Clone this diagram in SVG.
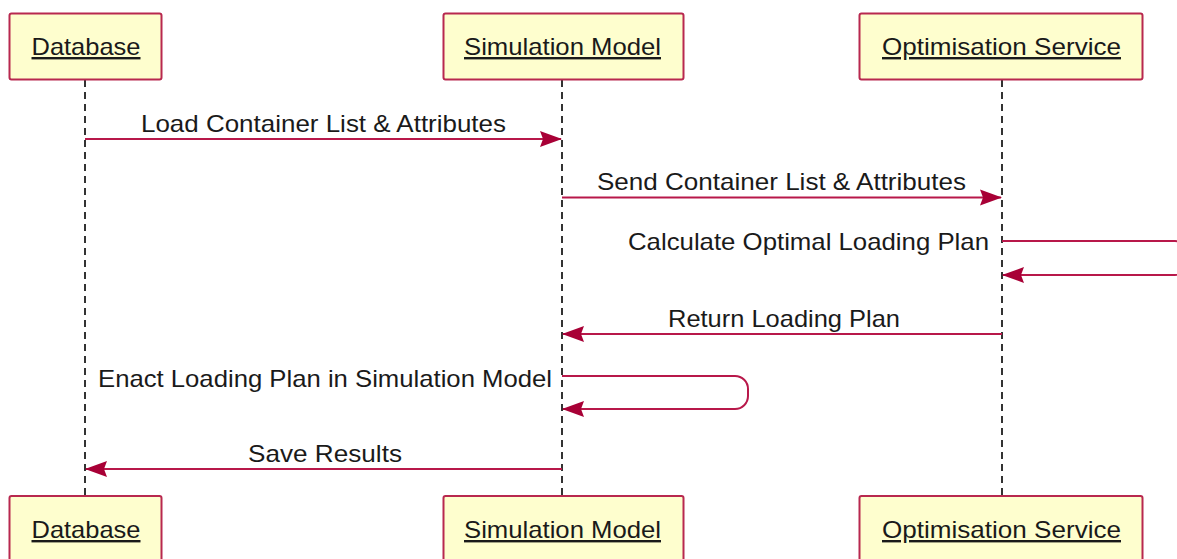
<svg xmlns="http://www.w3.org/2000/svg" width="1177" height="559" viewBox="0 0 1177 559">
  <defs>
    <style>
      .box { fill: #FEFECE; stroke: #B8284F; stroke-width: 2; }
      .name { font-family: "Liberation Sans", Arial, sans-serif; font-size: 24px; fill: #1a1a1a; text-anchor: middle; text-decoration: underline; }
      .life { stroke: #333; stroke-width: 2; stroke-dasharray: 7 5; fill: none; }
      .msg { stroke: #B8184A; stroke-width: 2; fill: none; marker-end: url(#head); }
      .lbl { font-family: "Liberation Sans", Arial, sans-serif; font-size: 24px; fill: #1a1a1a; }
    </style>
    <marker id="head" viewBox="-24 -10 25 20" refX="0" refY="0" markerWidth="25" markerHeight="20" markerUnits="userSpaceOnUse" orient="auto">
      <path d="M1,0 L-21,-8 L-18,0 L-21,8 Z" fill="#A80036"/>
    </marker>
  </defs>
  <rect width="1177" height="559" fill="#FFFFFF"/>

  <!-- lifelines -->
  <g id="lifelines">
    <line class="life" x1="85" y1="80" x2="85" y2="496"/>
    <line class="life" x1="562" y1="80" x2="562" y2="496"/>
    <line class="life" x1="1002" y1="80" x2="1002" y2="496"/>
  </g>

  <!-- participants, top -->
  <g id="database-top">
    <rect class="box" x="9.5" y="13.5" width="152" height="66" rx="2"/>
    <text class="name" x="86" y="55" textLength="109" lengthAdjust="spacingAndGlyphs">Database</text>
  </g>
  <g id="simulation-top">
    <rect class="box" x="443.5" y="13.5" width="240" height="66" rx="2"/>
    <text class="name" x="562.5" y="55" textLength="197" lengthAdjust="spacingAndGlyphs">Simulation Model</text>
  </g>
  <g id="optimisation-top">
    <rect class="box" x="859.5" y="13.5" width="283" height="66" rx="2"/>
    <text class="name" x="1001.5" y="55" textLength="239" lengthAdjust="spacingAndGlyphs">Optimisation Service</text>
  </g>

  <!-- participants, bottom -->
  <g id="database-bottom">
    <rect class="box" x="9.5" y="496" width="152" height="67" rx="2"/>
    <text class="name" x="86" y="538" textLength="109" lengthAdjust="spacingAndGlyphs">Database</text>
  </g>
  <g id="simulation-bottom">
    <rect class="box" x="443.5" y="496" width="240" height="67" rx="2"/>
    <text class="name" x="562.5" y="538" textLength="197" lengthAdjust="spacingAndGlyphs">Simulation Model</text>
  </g>
  <g id="optimisation-bottom">
    <rect class="box" x="859.5" y="496" width="283" height="67" rx="2"/>
    <text class="name" x="1001.5" y="538" textLength="239" lengthAdjust="spacingAndGlyphs">Optimisation Service</text>
  </g>

  <!-- messages -->
  <g id="messages">
    <path class="msg" d="M85,139 H561"/>
    <text class="lbl" x="141" y="131.5" textLength="365" lengthAdjust="spacingAndGlyphs">Load Container List &amp; Attributes</text>

    <path class="msg" d="M562,197.5 H1001"/>
    <text class="lbl" x="597" y="190" textLength="369" lengthAdjust="spacingAndGlyphs">Send Container List &amp; Attributes</text>

    <path class="msg" d="M1002,241 H1175 A13,13 0 0 1 1188,254 V262 A13,13 0 0 1 1175,275 H1003"/>
    <text class="lbl" x="628" y="250" textLength="361" lengthAdjust="spacingAndGlyphs">Calculate Optimal Loading Plan</text>

    <path class="msg" d="M1002,334 H563"/>
    <text class="lbl" x="668" y="326.5" textLength="232" lengthAdjust="spacingAndGlyphs">Return Loading Plan</text>

    <path class="msg" d="M562,376 H735 A13,13 0 0 1 748,389 V396 A13,13 0 0 1 735,409 H563"/>
    <text class="lbl" x="98" y="387" textLength="454" lengthAdjust="spacingAndGlyphs">Enact Loading Plan in Simulation Model</text>

    <path class="msg" d="M562,469 H86"/>
    <text class="lbl" x="248" y="461.5" textLength="154" lengthAdjust="spacingAndGlyphs">Save Results</text>
  </g>
</svg>
